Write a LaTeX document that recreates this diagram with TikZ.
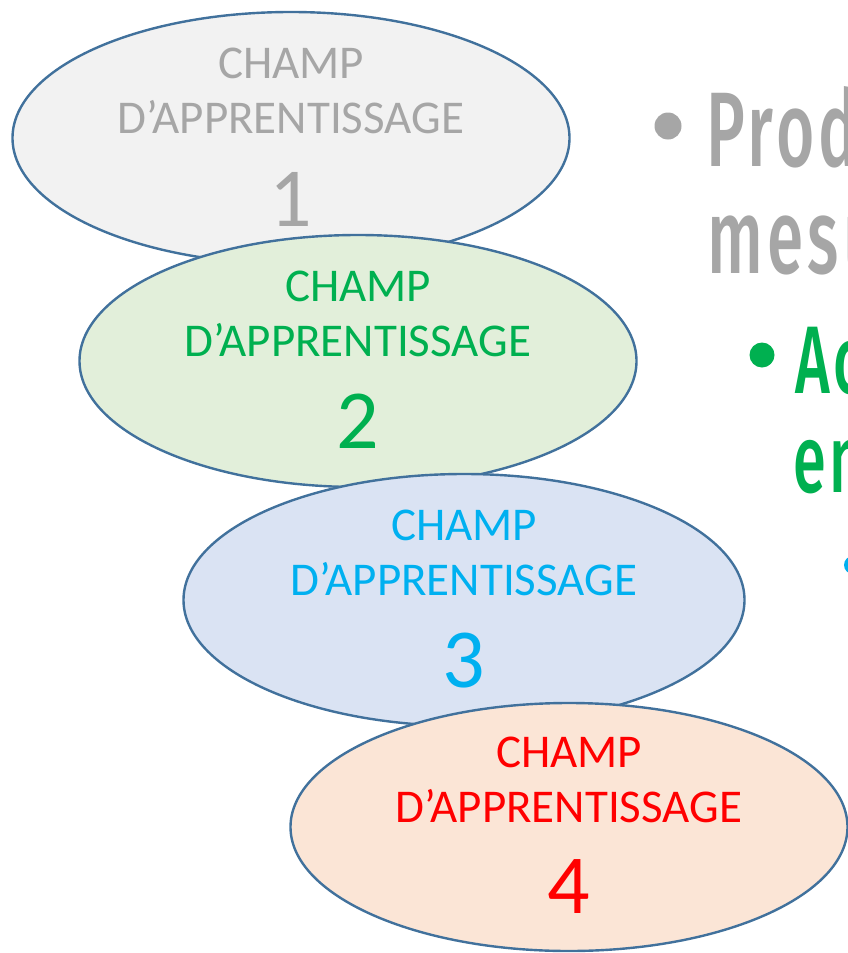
\documentclass[tikz,border=0pt]{standalone}
\usepackage{fontspec}
\setmainfont{Carlito}
\newfontfamily\condfont[FakeStretch=0.62, LetterSpace=4]{Fira Sans Medium}
\usetikzlibrary{shapes.geometric}
\definecolor{outline}{HTML}{41719C}
\definecolor{greytxt}{HTML}{A6A6A6}
\definecolor{greenTxt}{HTML}{00B050}
\definecolor{blueTxt}{HTML}{00B0F0}
\definecolor{redTxt}{HTML}{FF0000}
\definecolor{fillA}{HTML}{F2F2F2}
\definecolor{fillB}{HTML}{E2EFDA}
\definecolor{fillC}{HTML}{DAE3F3}
\definecolor{fillD}{HTML}{FBE5D6}
\tikzset{
  field/.style={ellipse, draw=outline, line width=2.4pt, inner sep=0pt,
    minimum width=557pt, minimum height=252pt},
  fieldtxt/.style={anchor=base, inner sep=0pt, font=\fontsize{47}{47}\selectfont},
  fieldnum/.style={anchor=base, inner sep=0pt, font=\fontsize{84}{84}\selectfont},
  bigline/.style={anchor=base west, inner sep=0pt},
  dot/.style={circle, inner sep=0pt}
}
\begin{document}
\begin{tikzpicture}[x=1pt, y=-1pt]
\useasboundingbox (0,0) rectangle (848,953);
\clip (0,0) rectangle (848,953);

% bullet text on the right
\node[dot, fill=greytxt, minimum size=27pt] (b1) at (668,126) {};
\node[bigline, text=greytxt, font=\condfont\fontsize{106}{106}\selectfont] (t1) at (706,166) {Prod};
\node[bigline, text=greytxt, font=\condfont\fontsize{106}{106}\selectfont] (t2) at (707,273) {mesu};
\node[dot, fill=greenTxt, minimum size=25pt] (b2) at (762,355) {};
\node[bigline, text=greenTxt, font=\condfont\fontsize{96}{96}\selectfont] (t3) at (795,393) {Ac};
\node[bigline, text=greenTxt, font=\condfont\fontsize{96}{96}\selectfont] (t4) at (793,492) {en};
\node[dot, fill=blueTxt, minimum size=18pt] (b3) at (853,565) {};

% learning fields, each one overlapping the previous
\node[field, fill=fillA] (e1) at (291,138) {};
\node[fieldtxt, text=greytxt] (e1a) at ([yshift=60pt]e1.center) {CHAMP};
\node[fieldtxt, text=greytxt] (e1b) at ([yshift=5pt]e1.center) {D’APPRENTISSAGE};
\node[fieldnum, text=greytxt] (e1c) at ([yshift=-88pt]e1.center) {1};

\node[field, fill=fillB] (e2) at (358,361) {};
\node[fieldtxt, text=greenTxt] (e2a) at ([yshift=60pt]e2.center) {CHAMP};
\node[fieldtxt, text=greenTxt] (e2b) at ([yshift=5pt]e2.center) {D’APPRENTISSAGE};
\node[fieldnum, text=greenTxt] (e2c) at ([yshift=-87pt]e2.center) {2};

\node[field, fill=fillC, minimum width=561pt] (e3) at (464,600) {};
\node[fieldtxt, text=blueTxt] (e3a) at ([yshift=60pt]e3.center) {CHAMP};
\node[fieldtxt, text=blueTxt] (e3b) at ([yshift=5pt]e3.center) {D’APPRENTISSAGE};
\node[fieldnum, text=blueTxt] (e3c) at ([yshift=-87pt]e3.center) {3};

\node[field, fill=fillD, minimum height=248pt] (e4) at (569,827) {};
\node[fieldtxt, text=redTxt] (e4a) at ([yshift=60pt]e4.center) {CHAMP};
\node[fieldtxt, text=redTxt] (e4b) at ([yshift=5pt]e4.center) {D’APPRENTISSAGE};
\node[fieldnum, text=redTxt] (e4c) at ([yshift=-86pt]e4.center) {4};
\end{tikzpicture}
\end{document}
